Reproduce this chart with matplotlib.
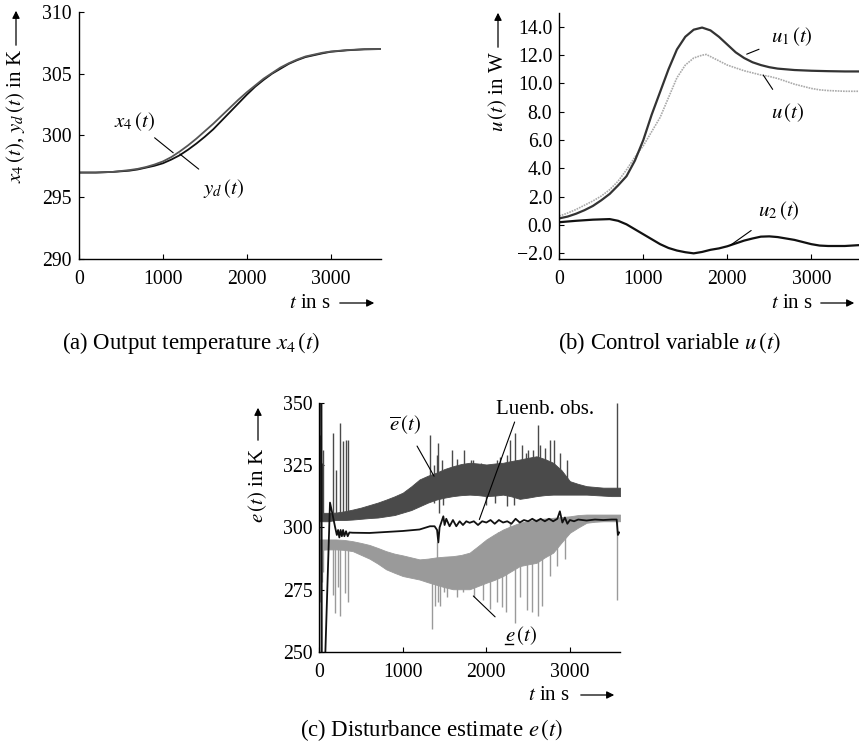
import numpy as np
import matplotlib
matplotlib.use("Agg")
import matplotlib.pyplot as plt

plt.rcParams['font.family'] = ['Liberation Serif', 'DejaVu Serif']
plt.rcParams['mathtext.fontset'] = 'stix'
plt.rcParams['axes.unicode_minus'] = True

# ---------------- data: panel (a) ----------------
t_a = [0, 200, 400, 600, 700, 800, 900, 1000, 1100, 1200, 1300, 1400, 1500, 1600, 1700, 1800, 1900, 2000,
       2100, 2200, 2300, 2400, 2500, 2600, 2700, 2800, 2900, 3000, 3200, 3400, 3600]
x4 = [297.0, 297.0, 297.05, 297.2, 297.3, 297.45, 297.65, 297.9, 298.25, 298.7, 299.2, 299.75, 300.35,
      300.95, 301.6, 302.25, 302.9, 303.5, 304.05, 304.6, 305.05, 305.5, 305.85, 306.15, 306.4, 306.55,
      306.7, 306.8, 306.92, 306.98, 307.0]
yd = [297.0, 297.0, 297.05, 297.15, 297.25, 297.4, 297.55, 297.75, 298.05, 298.4, 298.85, 299.35, 299.9,
      300.5, 301.2, 301.9, 302.6, 303.3, 303.95, 304.5, 305.0, 305.4, 305.8, 306.1, 306.35, 306.5, 306.65,
      306.78, 306.9, 306.98, 307.0]

# ---------------- data: panel (b) ----------------
t_u1 = [0, 100, 200, 300, 400, 500, 600, 700, 800, 900, 1000, 1100, 1200, 1300, 1400, 1500, 1600, 1700,
        1800, 1900, 2000, 2100, 2200, 2300, 2400, 2500, 2600, 2800, 3000, 3200, 3400, 3568]
u1 = [0.47, 0.6, 0.8, 1.05, 1.35, 1.75, 2.2, 2.8, 3.45, 4.55, 6.0, 7.8, 9.4, 11.0, 12.4, 13.3, 13.8, 13.95,
      13.75, 13.3, 12.75, 12.2, 11.8, 11.5, 11.3, 11.15, 11.05, 10.95, 10.9, 10.87, 10.85, 10.85]
t_u = [0, 100, 200, 300, 400, 500, 600, 700, 800, 900, 1000, 1100, 1200, 1300, 1400, 1500, 1600, 1700,
       1750, 1800, 1900, 2000, 2100, 2200, 2300, 2400, 2500, 2600, 2700, 2800, 2900, 3000, 3100, 3200,
       3400, 3568]
u = [0.63, 0.85, 1.1, 1.4, 1.7, 2.05, 2.5, 3.1, 3.9, 4.8, 5.6, 6.6, 7.6, 9.0, 10.4, 11.3, 11.8, 12.0, 12.05,
     11.9, 11.6, 11.3, 11.1, 10.9, 10.75, 10.6, 10.5, 10.35, 10.15, 9.95, 9.8, 9.65, 9.55, 9.5, 9.45, 9.45]
t_u2 = [0, 200, 400, 600, 700, 800, 900, 1000, 1100, 1200, 1300, 1400, 1500, 1600, 1700, 1800, 1900, 2000,
        2100, 2200, 2300, 2400, 2500, 2600, 2700, 2800, 2900, 3000, 3100, 3200, 3400, 3568]
u2 = [0.2, 0.3, 0.38, 0.42, 0.3, 0.05, -0.3, -0.65, -1.0, -1.35, -1.62, -1.8, -1.92, -2.0, -1.9, -1.75,
      -1.65, -1.5, -1.3, -1.1, -0.95, -0.82, -0.8, -0.85, -0.95, -1.05, -1.2, -1.35, -1.45, -1.48, -1.48,
      -1.42]

# ---------------- data: panel (c) ----------------
t_band = [0, 100, 200, 300, 400, 500, 600, 700, 800, 900, 1000, 1100, 1200, 1300, 1400, 1500, 1600, 1700,
          1800, 1900, 2000, 2100, 2200, 2300, 2400, 2500, 2600, 2700, 2800, 2900, 3000, 3100, 3200, 3300,
          3400, 3500, 3600]
ebar_lo = [302.5, 302.5, 303, 303, 303.2, 303.5, 303.8, 304, 304.5, 305, 306, 307, 308.5, 310, 311.2, 312,
           312.6, 313, 313.2, 313, 312.6, 312.8, 313.2, 312.5, 311.5, 312, 312.6, 313, 313.2, 313.2, 313.2,
           313.2, 313.2, 313, 312.8, 312.6, 312.6]
ebar_hi = [305.9, 305.9, 306, 306.5, 307.2, 308, 309, 310, 311.2, 312.5, 314, 316.5, 319.3, 320.8, 322,
           323.5, 324.6, 325.5, 326, 325.7, 325.3, 325.7, 326, 326.7, 327.3, 328, 328.6, 327.5, 326, 323,
           318.6, 317.5, 316.6, 316.3, 316, 316, 316]
eund_lo = [291, 291.2, 291.2, 291, 290.5, 289, 287.5, 285.5, 283.2, 281.8, 280.5, 279.8, 279.1, 278, 277,
           276, 275.2, 275.2, 275.2, 276.5, 277.8, 279, 280.5, 282.5, 284.5, 285.2, 285.8, 288, 289.9, 294,
           297.9, 300, 301.9, 302.3, 302.5, 302.5, 302.5]
eund_hi = [295.2, 295.2, 295.2, 295, 294.5, 293.8, 293, 291.8, 290.5, 289.5, 288.8, 288, 287.2, 287.5, 288,
           288.3, 288.5, 289, 289.9, 292.5, 295.2, 297.3, 299.2, 300.6, 301.9, 302.6, 303.2, 303.6, 303.9,
           304.2, 304.5, 305, 305.2, 305.2, 305.2, 305.2, 305.2]
# spikes of the upper estimate (time, peak value)
ebar_spk_t = [8, 30, 45, 168, 200, 248, 288, 320, 348,
              1325, 1374, 1408, 1425, 1474, 1560, 1585, 1645, 1728, 1813, 1844, 1933, 2050, 2132, 2164,
              2252, 2284, 2344, 2423, 2480, 2503, 2560, 2623, 2643, 2700, 2763, 2811, 2883, 2962, 3570,
              1374, 1434, 1480, 1990, 2100, 2252, 2332]
ebar_spk_v = [337, 326, 331, 338, 323, 342, 334.6, 335, 335.3,
              337.3, 325, 329, 334, 327, 324, 331.3, 327.5, 331, 327, 327.3, 326, 325, 327, 328.5,
              329, 335.3, 338, 333, 330, 331, 331, 341.3, 333, 332, 335.3, 335, 330, 327, 350,
              310, 306, 309, 309, 310, 308.5, 309]
# spikes of the lower estimate (time, peak value)
eund_spk_t = [8, 32, 45, 160, 188, 220, 248, 307, 347,
              1345, 1385, 1425, 1444, 1494, 1525, 1653, 1725, 1853, 1964, 2044, 2132, 2184, 2232, 2344,
              2403, 2483, 2551, 2623, 2671, 2763, 2850, 2943, 3570,
              1414, 2140, 2280, 2340]
eund_spk_v = [270, 278, 282, 273, 265.8, 276, 264.4, 273.8, 270,
              259.1, 268.5, 270, 268.5, 274, 272, 272, 274, 272, 271, 267.1, 270, 268, 266, 261.8,
              272, 267, 266, 264.4, 268.5, 280.5, 284.5, 287.2, 271,
              294, 298, 302, 300]
# Luenberger observer
t_lu = [0, 3, 26, 30, 68, 128, 160, 190, 210, 225, 240, 255, 270, 285, 300, 320, 340, 360, 400, 600, 800,
        1000, 1200, 1325, 1380, 1410, 1425, 1440, 1485, 1500, 1520, 1560, 1600, 1640, 1680, 1720, 1760,
        1800, 1850, 1900, 1950, 2000, 2050, 2100, 2150, 2200, 2250, 2300, 2350, 2400, 2450, 2500, 2550,
        2600, 2650, 2700, 2750, 2800, 2850, 2880, 2910, 2940, 2970, 3000, 3050, 3100, 3200, 3300, 3400,
        3500, 3560, 3575, 3590]
lu = [245, 355, 355, 245, 245, 310, 305, 300, 297, 299, 296, 299, 296.5, 299, 296.5, 298.5, 296.5, 298,
      297.9, 297.8, 298.2, 298.6, 299.2, 300.5, 300.5, 299, 294, 300, 304.5, 301, 303.5, 300.5, 303, 300.5,
      302.5, 301, 302.5, 301.9, 302.5, 301, 302.5, 302, 303, 301.5, 303, 302, 302.5, 301.5, 303.5, 302,
      303, 302.5, 303.5, 302.5, 303.5, 302.5, 303.5, 302.5, 303.5, 306.5, 302, 304, 301.5, 303, 302.5,
      303.2, 302.8, 303.2, 303, 303.2, 303.2, 297, 298]

# ---------------- figure ----------------
W, H = 859, 750
fig = plt.figure(figsize=(W / 100, H / 100), dpi=100)


def rect(l, r, t, b):
    return [l / W, 1 - b / H, (r - l) / W, (b - t) / H]


def fp(x, y):
    return (x / W, 1 - y / H)


FS = 14.2      # ticks
LS = 15        # labels / annotations
CS = 16.4      # captions


def style(ax):
    for s in ['top', 'right']:
        ax.spines[s].set_visible(False)
    for s in ['left', 'bottom']:
        ax.spines[s].set_linewidth(1.0)
    ax.tick_params(direction='in', length=3.5, width=0.8, labelsize=FS)
    ax.tick_params(axis='x', pad=8)
    ax.tick_params(axis='y', pad=5)


def ylab(text, x, yc, ya0, ya1):
    fig.text(*fp(x, yc), text, rotation=90, ha='center', va='center', fontsize=LS)
    fig.add_artist(matplotlib.patches.FancyArrowPatch(fp(x, ya0), fp(x, ya1), transform=fig.transFigure,
                                                      arrowstyle='-|>', mutation_scale=11, lw=0.9, color='k'))


def xlab(xc, y, xa0, xa1):
    fig.text(*fp(xc, y), r'$t$ in s', ha='center', va='center', fontsize=LS)
    fig.add_artist(matplotlib.patches.FancyArrowPatch(fp(xa0, y), fp(xa1, y), transform=fig.transFigure,
                                                      arrowstyle='-|>', mutation_scale=11, lw=0.9, color='k'))


ptr = dict(arrowstyle='-', lw=0.8, color='k')

# ---- panel (a)
axa = fig.add_axes(rect(79, 381, 12, 259))
style(axa)
axa.plot(t_a, yd, color='#111111', lw=1.3)
axa.plot(t_a, x4, color='#555555', lw=1.3)
axa.set_xlim(0, 3600)
axa.set_ylim(290, 310)
axa.set_xticks([0, 1000, 2000, 3000])
axa.set_yticks([290, 295, 300, 305, 310])
axa.annotate(r'$x_4\,(t)$', xy=(1123, 298.6), xytext=(667, 301.1), fontsize=LS, ha='center', va='center',
             arrowprops=dict(ptr, shrinkA=2, shrinkB=0), annotation_clip=False)
axa.annotate(r'$y_d\,(t)$', xy=(1202, 298.5), xytext=(1718, 295.7), fontsize=LS, ha='center', va='center',
             arrowprops=dict(ptr, shrinkA=6, shrinkB=0), annotation_clip=False)
ylab(r'$x_4\,(t)$, $y_d\,(t)$ in K', 16, 116, 48, 8)
xlab(310, 303, 337, 377)
fig.text(*fp(191, 343), r'(a) Output temperature $x_4\,(t)$', ha='center', va='center', fontsize=CS)

# ---- panel (b)
axb = fig.add_axes(rect(559.3, 859, 12.7, 259.3))
style(axb)
axb.plot(t_u, u, color='#aaaaaa', lw=1.2, ls=(0, (1, 0.6)))
axb.plot(t_u1, u1, color='#333333', lw=1.6)
axb.plot(t_u2, u2, color='#111111', lw=1.6)
axb.set_xlim(0, 3568)
axb.set_ylim(-2.42, 15)
axb.set_xticks([0, 1000, 2000, 3000])
axb.set_yticks(np.arange(-2, 15, 2))
axb.yaxis.set_major_formatter(matplotlib.ticker.FuncFormatter(lambda v, p: ('%.1f' % v).replace('-', '\u2212')))
axb.annotate(r'$u_1\,(t)$', xy=(2231, 12.07), xytext=(2767, 13.34), fontsize=LS, ha='center', va='center',
             arrowprops=dict(ptr, shrinkA=7, shrinkB=0), annotation_clip=False)
axb.annotate(r'$u\,(t)$', xy=(2429, 10.59), xytext=(2723, 7.93), fontsize=LS, ha='center', va='center',
             arrowprops=dict(ptr, shrinkA=8, shrinkB=0), annotation_clip=False)
axb.annotate(r'$u_2\,(t)$', xy=(2032, -1.45), xytext=(2615, 1.01), fontsize=LS, ha='center', va='center',
             arrowprops=dict(ptr, shrinkA=7, shrinkB=0), annotation_clip=False)
ylab(r'$u\,(t)$ in W', 498, 92, 50, 10)
xlab(791.5, 303, 818, 857)
fig.text(*fp(669, 343), r'(b) Control variable $u\,(t)$', ha='center', va='center', fontsize=CS)

# ---- panel (c)
axc = fig.add_axes(rect(319.3, 620, 403, 652))
style(axc)
DARK, LIGHT = '#4a4a4a', '#9a9a9a'
axc.fill_between(t_band, ebar_lo, ebar_hi, color=DARK, lw=0.6, edgecolor=DARK)
bmid_e = np.interp(ebar_spk_t, t_band, (np.array(ebar_lo) + np.array(ebar_hi)) / 2)
axc.vlines(ebar_spk_t, bmid_e, ebar_spk_v, color=DARK, lw=1.0)
axc.fill_between(t_band, eund_lo, eund_hi, color=LIGHT, lw=0.6, edgecolor=LIGHT)
bmid_u = np.interp(eund_spk_t, t_band, (np.array(eund_lo) + np.array(eund_hi)) / 2)
axc.vlines(eund_spk_t, bmid_u, eund_spk_v, color=LIGHT, lw=1.0)
axc.plot(t_lu, lu, color='#111111', lw=1.3)
axc.set_xlim(0, 3600)
axc.set_ylim(250, 350)
axc.set_xticks([0, 1000, 2000, 3000])
axc.set_yticks([250, 275, 300, 325, 350])
axc.annotate(r'$\overline{e}\,(t)$', xy=(1374, 320.6), xytext=(1026, 341.3), fontsize=LS, ha='center',
             va='center', arrowprops=dict(ptr, shrinkA=6, shrinkB=0), annotation_clip=False)
axc.annotate('Luenb. obs.', xy=(1916, 303.2), xytext=(2703, 347.3), fontsize=LS, ha='center', va='center',
             arrowprops=dict(ptr, shrinkA=0, shrinkB=0, relpos=(0.2, 0.0)), annotation_clip=False)
axc.annotate(r'$e\,(t)$', xy=(1844, 272.5), xytext=(2416, 256.7), fontsize=LS, ha='center', va='center',
             arrowprops=dict(ptr, shrinkA=7, shrinkB=0, relpos=(0.0, 0.9)), annotation_clip=False)
# underline of the e in the lower-estimate label
axc.plot([2218, 2318], [253.3, 253.3], color='k', lw=1.0, clip_on=False)
ylab(r'$e\,(t)$ in K', 258, 485, 443, 405)
xlab(549, 695, 578, 617)
fig.text(*fp(431.5, 730), r'(c) Disturbance estimate $e\,(t)$', ha='center', va='center', fontsize=CS)

fig.savefig('out.png', dpi=100)
